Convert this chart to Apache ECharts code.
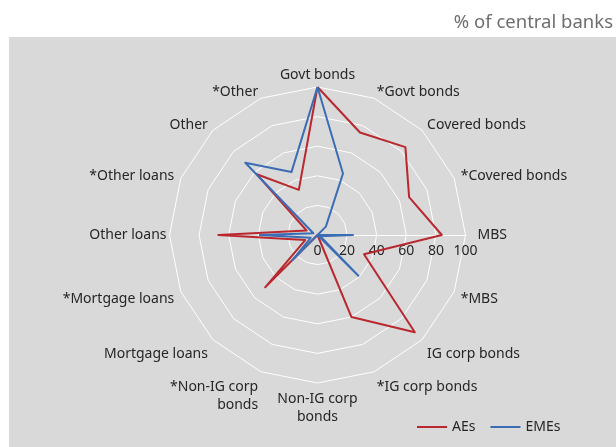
<!DOCTYPE html>
<html>
<head>
<meta charset="utf-8">
<script src="https://cdn.jsdelivr.net/npm/echarts@6/dist/echarts.min.js"></script>
<style>
html,body{margin:0;padding:0;background:#fff;}
#chart{width:616px;height:447px;}
</style>
</head>
<body>
<div id="chart"></div>
<script>
// Categories, clockwise from the top
var categories = ['Govt bonds', '*Govt bonds', 'Covered bonds', '*Covered bonds', 'MBS', '*MBS',
  'IG corp bonds', '*IG corp bonds', 'Non-IG corp\nbonds', '*Non-IG corp\nbonds', 'Mortgage loans',
  '*Mortgage loans', 'Other loans', '*Other loans', 'Other', '*Other'];
var aesValues  = [100, 75, 84, 67, 84, 34, 93, 60, 0, 0, 50, 9, 67, 8, 58, 33];
var emesValues = [100, 45, 8, 0, 24, 2, 39, 0, 0, 0, 24, 5, 39, 3, 69, 46];
var seriesNames = ['AEs', 'EMEs'];
var tickMax = 100;
var unitLabel = '% of central banks';

var FONT = 'Noto Sans';
// label style tweaks (style only)
var nameStyle = {
  'Govt bonds': { padding: [0, 0, -4, 0] },
  'MBS': { padding: [0, 0, 0, 5] },
  '*MBS': { verticalAlign: 'top', padding: [-4, 0, 0, 0] },
  'IG corp bonds': { verticalAlign: 'top' },
  '*IG corp bonds': { verticalAlign: 'top' },
  '*Non-IG corp\nbonds': { verticalAlign: 'top' },
  'Mortgage loans': { verticalAlign: 'top' },
  '*Mortgage loans': { verticalAlign: 'top', padding: [-4, 0, 0, 0] },
  'Other loans': { padding: [0, -4, 0, 0] }
};
// ECharts places radar indicators counter-clockwise; reorder for clockwise layout
function toCCW(arr) {
  var out = [arr[0]];
  for (var i = arr.length - 1; i >= 1; i--) out.push(arr[i]);
  return out;
}
var cats = toCCW(categories);
var indicators = cats.map(function (c) {
  var ind = { name: c, min: 0, max: tickMax };
  if (nameStyle[c]) ind.nameTextStyle = nameStyle[c];
  if (c === 'MBS') {
    ind.axisLine = { show: true, lineStyle: { color: '#ffffff', width: 1 } };
    ind.axisLabel = { show: true, color: '#262626', fontSize: 14, fontFamily: FONT, margin: -23 };
  }
  return ind;
});

var chart = echarts.init(document.getElementById('chart'), null, { renderer: 'canvas' });
chart.setOption({
  animation: false,
  backgroundColor: '#ffffff',
  graphic: [
    { type: 'rect', left: 9, top: 37, z: -10, silent: true,
      shape: { width: 607, height: 410 }, style: { fill: '#d9d9d9' } },
    { type: 'text', right: 3, top: 13, silent: true,
      style: { text: unitLabel, fill: '#6e6e6e', font: '18.5px "Noto Sans"' } }
  ],
  legend: {
    left: 412, top: 415,
    icon: 'rect', itemWidth: 30, itemHeight: 2, itemGap: 15,
    textStyle: { color: '#262626', fontSize: 14, fontFamily: FONT },
    data: seriesNames
  },
  radar: {
    center: [317.5, 235],
    radius: 148,
    shape: 'polygon',
    splitNumber: 5,
    startAngle: 90,
    indicator: indicators,
    axisNameGap: 7,
    axisName: { color: '#262626', fontSize: 14, fontFamily: FONT, lineHeight: 18 },
    splitLine: { lineStyle: { color: '#ffffff', width: 1 } },
    splitArea: { show: false },
    axisLine: { show: false },
    axisTick: { show: false },
    axisLabel: { show: false }
  },
  series: [{
    type: 'radar',
    symbol: 'none',
    data: [
      { name: seriesNames[0], value: toCCW(aesValues),
        lineStyle: { color: '#b8282e', width: 2 }, itemStyle: { color: '#b8282e' } },
      { name: seriesNames[1], value: toCCW(emesValues),
        lineStyle: { color: '#3b6db5', width: 2 }, itemStyle: { color: '#3b6db5' } }
    ]
  }]
});
</script>
</body>
</html>
